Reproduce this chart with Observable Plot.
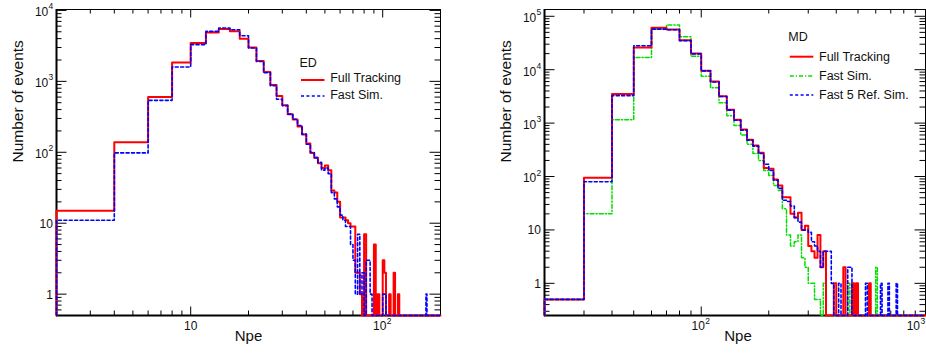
<!DOCTYPE html>
<html>
<head>
<meta charset="utf-8">
<script src="https://cdn.jsdelivr.net/npm/d3@7"></script>
<script src="https://cdn.jsdelivr.net/npm/@observablehq/plot@0.6"></script>
<style>
  html, body { margin: 0; padding: 0; background: #fff; overflow: hidden; }
  #wrap { position: relative; width: 926px; height: 354px; font-family: "Liberation Sans", Arial, Helvetica, sans-serif; }
  .panel { position: absolute; top: 0; }
  #legend { position: absolute; left: 0; top: 0; pointer-events: none; }
</style>
</head>
<body>
<div id="wrap"></div>
<script>
// ---------------- ED: photo-electrons, bins of width 2 starting at Npe = 2 ----------------
const edFirstEdge = 2;
const edBinWidth = 2;
const edFullTracking = [
  15, 138, 600, 1850, 3460, 4900, 5460, 5100, 4000, 2990,
  1930, 1350, 890, 620, 460, 345, 290, 230, 178, 133,
  98, 84, 70, 60, 65, 56, 29, 27, 20, 12,
  12, 11, 10, 9, 9, 2, 2, 1, 0, 7,
  0, 0, 0, 0, 5, 0, 1, 0, 0, 3,
  2, 0, 0, 1, 0, 0, 2, 0, 0, 1,
  0, 0, 0, 0, 0, 0, 0, 0, 0, 0,
  0, 0, 0, 0, 0, 0, 0, 0, 0, 0,
  0, 0, 0, 0, 0, 0, 0, 0, 0, 0,
  0, 0, 0, 0, 0, 0, 0, 0, 0
];
const edFastSim = [
  11, 98, 540, 1590, 3290, 5060, 5640, 5350, 4400, 2950,
  1900, 1320, 870, 560, 455, 345, 292, 238, 180, 130,
  100, 84, 72, 56, 60, 50, 27, 22, 17, 13,
  11, 9, 9, 5, 3, 1, 7, 1, 2, 0,
  3, 3, 1, 0, 0, 0, 0, 0, 0, 1,
  1, 0, 0, 0, 0, 0, 0, 0, 0, 0,
  0, 0, 0, 0, 0, 0, 0, 0, 0, 0,
  0, 0, 0, 0, 0, 0, 0, 0, 0, 0,
  0, 0, 0, 1, 0, 0, 0, 0, 0, 0,
  0, 0, 0, 0, 0, 0, 0, 0, 0
];

// ---------------- MD: photo-electrons, bins of width 10 starting at Npe = 20 ----------------
const mdFirstEdge = 20;
const mdBinWidth = 10;
const mdFullTracking = [
  0.5, 95, 3500, 26000, 61000, 56500, 35500, 20000, 9550, 6000,
  3170, 1770, 1150, 760, 490, 380, 280, 145, 140, 88,
  68, 41, 41, 20, 17, 21, 10, 12, 5, 4,
  3, 8, 2, 4, 0, 0, 0, 1, 0, 0,
  0, 2, 0, 0, 0, 1, 0, 1, 0, 0,
  0, 0, 0, 0, 1, 0, 0, 0, 0, 0,
  0, 0, 0, 0, 0, 0, 0, 0, 0, 0,
  0, 0, 0, 0, 0, 0, 0, 0, 0, 0,
  0, 0, 0, 0, 0, 0, 0, 0, 0, 0,
  0, 0, 0, 0, 0, 0, 0, 0
];
const mdFastSim = [
  0.5, 20, 1160, 17000, 57000, 69000, 41500, 17800, 7500, 4600,
  2400, 1380, 900, 600, 400, 270, 200, 130, 105, 68,
  55, 25, 8, 5, 6, 8, 3, 2, 1, 1,
  0.5, 0.5, 0, 1, 0, 0, 0, 0, 0, 0,
  0, 0, 0, 1, 0, 1, 0, 0, 0, 0,
  0, 0, 0, 0, 0, 0, 0, 0, 2, 0,
  0, 0, 0, 0, 0, 0, 0, 0, 0, 0,
  0, 0, 0, 0, 0, 0, 0, 0, 0, 0,
  0, 0, 0, 0, 0, 0, 0, 0, 0, 0,
  0, 0, 0, 0, 0, 0, 0, 0
];
const mdFast5RefSim = [
  0.5, 80, 3270, 28000, 57500, 56000, 35000, 19800, 9500, 5900,
  3150, 1750, 1130, 740, 480, 370, 270, 170, 130, 85,
  60, 36, 34, 28, 17, 14, 10, 10, 9, 6,
  5, 4, 2, 4, 4, 4, 1, 0, 0, 1,
  0, 0, 0, 2, 2, 0, 0, 0, 0, 0,
  0, 0, 1, 0, 0, 0, 0, 0, 0, 0,
  0, 1, 0, 0, 0, 0, 1, 0, 0, 0,
  0, 0, 1, 0, 0, 0, 0, 0, 0, 0,
  0, 0, 0, 0, 0, 0, 0, 0, 0, 0,
  0, 0, 0, 0, 0, 0, 0, 0
];

// Axis ranges and labelled decades
const edXDomain = [2, 200];
const edYDomain = [0.5, 10300];
const edXTicks = [10, 100];
const edYTicks = [1, 10, 100, 1000, 10000];

const mdXDomain = [20, 1000];
const mdYDomain = [0.25, 134000];
const mdXTicks = [100, 1000];
const mdYTicks = [1, 10, 100, 1000, 10000, 100000];

const axisTitleX = "Npe";
const axisTitleY = "Number of events";

const edLegendHeader = "ED";
const edLegendLabels = ["Full Tracking", "Fast Sim."];
const mdLegendHeader = "MD";
const mdLegendLabels = ["Full Tracking", "Fast Sim.", "Fast 5 Ref. Sim."];

// ---------------- styles ----------------
const RED = "#ff0000", BLUE = "#0000ff", GREEN = "#00e000";
const styleFull = {stroke: RED, strokeWidth: 2};
const styleFast = {stroke: BLUE, strokeWidth: 1.6, strokeDasharray: "3,2.4"};
const styleGreen = {stroke: GREEN, strokeWidth: 1.5, strokeDasharray: "4,2,1.2,2"};
const FONT = "Liberation Sans, Arial, Helvetica, sans-serif";

// Histogram outline as ROOT draws it: rises from the floor at the first edge,
// one flat step per bin, and drops back to the floor at the last edge.
function histSteps(firstEdge, binWidth, values, floor) {
  const pts = [{x: firstEdge, y: floor}];
  values.forEach((v, i) => pts.push({x: firstEdge + i * binWidth, y: Math.max(v, floor)}));
  const end = firstEdge + values.length * binWidth;
  pts.push({x: end, y: Math.max(values[values.length - 1], floor)});
  pts.push({x: end, y: floor});
  return pts;
}

const isDecade = v => Math.abs(Math.log10(v) - Math.round(Math.log10(v))) < 1e-9;
const expOf = v => { const e = Math.round(Math.log10(v)); return e >= 2 ? String(e) : ""; };
const baseOf = v => (Math.round(Math.log10(v)) === 0 ? "1" : "10");

function panel(cfg) {
  const {width, height, marginLeft, marginRight, marginTop, marginBottom,
         xDomain, yDomain, xTicks, yTicks, series} = cfg;
  const fw = width - marginLeft - marginRight;
  const fh = height - marginTop - marginBottom;
  const inside = (v, d) => v > d[0] * 1.0001 && v < d[1] * 0.9999;
  const xMinor = d3.scaleLog().domain(xDomain).ticks().filter(v => !isDecade(v) && inside(v, xDomain));
  const yMinor = d3.scaleLog().domain(yDomain).ticks().filter(v => !isDecade(v) && inside(v, yDomain));
  const xMajor = xTicks.filter(v => v >= xDomain[0] && v <= xDomain[1] * 1.0001);
  const yMajor = yTicks.filter(v => v >= yDomain[0] && v <= yDomain[1]);
  const atEnd = v => v >= xDomain[1] * 0.9999;
  const tick = {stroke: "#000", strokeWidth: 1};
  const txt = {fill: "#111", fontSize: 12};

  const marks = [
    Plot.frame({stroke: "#000", strokeWidth: 1}),
    Plot.ruleY([yDomain[0]], {stroke: "#000", strokeWidth: 2}),
    Plot.ruleX([xDomain[0]], {stroke: "#000", strokeWidth: 2}),
    // inward ticks on all four sides
    Plot.tickX(xMajor, {x: d => d, insetTop: fh - 8.5, ...tick}),
    Plot.tickX(xMinor, {x: d => d, insetTop: fh - 4.5, ...tick}),
    Plot.tickX(xMajor, {x: d => d, insetBottom: fh - 8.5, ...tick}),
    Plot.tickX(xMinor, {x: d => d, insetBottom: fh - 4.5, ...tick}),
    Plot.tickY(yMajor, {y: d => d, insetRight: fw - 10.5, ...tick}),
    Plot.tickY(yMinor, {y: d => d, insetRight: fw - 5.5, ...tick}),
    Plot.tickY(yMajor, {y: d => d, insetLeft: fw - 10.5, ...tick}),
    Plot.tickY(yMinor, {y: d => d, insetLeft: fw - 5.5, ...tick}),
    // histograms
    ...series.map(s => Plot.line(histSteps(s.firstEdge, s.binWidth, s.values, yDomain[0]),
      {x: "x", y: "y", curve: "step-after", ...s.style})),
    // x tick labels
    Plot.text(xMajor.filter(v => !expOf(v)), {x: d => d, frameAnchor: "bottom", dy: 14.2, text: baseOf, textAnchor: "middle", ...txt}),
    Plot.text(xMajor.filter(v => expOf(v) && !atEnd(v)), {x: d => d, frameAnchor: "bottom", dy: 14.2, dx: -3, text: baseOf, textAnchor: "middle", ...txt}),
    Plot.text(xMajor.filter(v => expOf(v) && !atEnd(v)), {x: d => d, frameAnchor: "bottom", dy: 8.6, dx: 4, text: expOf, textAnchor: "start", fill: "#111", fontSize: 8.5}),
    // the label at the right end of the axis is kept inside the page
    Plot.text(xMajor.filter(v => expOf(v) && atEnd(v)), {x: d => d, frameAnchor: "bottom", dy: 14.2, dx: -5.5, text: baseOf, textAnchor: "end", ...txt}),
    Plot.text(xMajor.filter(v => expOf(v) && atEnd(v)), {x: d => d, frameAnchor: "bottom", dy: 8.6, dx: -5, text: expOf, textAnchor: "start", fill: "#111", fontSize: 8.5}),
    // y tick labels
    Plot.text(yMajor.filter(v => !expOf(v)), {y: d => d, frameAnchor: "left", dx: -3.6, dy: 0.6, text: baseOf, textAnchor: "end", ...txt}),
    Plot.text(yMajor.filter(v => expOf(v)), {y: d => d, frameAnchor: "left", dx: -8.2, dy: 2, text: baseOf, textAnchor: "end", ...txt}),
    Plot.text(yMajor.filter(v => expOf(v)), {y: d => d, frameAnchor: "left", dx: -3.3, dy: -3.7, text: expOf, textAnchor: "end", fill: "#111", fontSize: 8.5}),
    // axis titles
    Plot.text([axisTitleX], {frameAnchor: "bottom", dy: 25.5, dx: cfg.xTitleDx || 0, fill: "#111", fontSize: 15}),
    Plot.text([axisTitleY], {frameAnchor: "left", dx: -38, rotate: -90, fill: "#111", fontSize: 15.5})
  ];

  return Plot.plot({
    width, height, marginLeft, marginRight, marginTop, marginBottom,
    x: {type: "log", domain: xDomain, axis: null},
    y: {type: "log", domain: yDomain, axis: null},
    style: {fontFamily: FONT, background: "transparent", overflow: "visible"},
    marks
  });
}

const wrap = document.getElementById("wrap");

const left = panel({
  width: 463, height: 354, marginLeft: 56, marginRight: 23, marginTop: 9, marginBottom: 39,
  xDomain: edXDomain, yDomain: edYDomain, xTicks: edXTicks, yTicks: edYTicks,
  series: [
    {firstEdge: edFirstEdge, binWidth: edBinWidth, values: edFullTracking, style: styleFull},
    {firstEdge: edFirstEdge, binWidth: edBinWidth, values: edFastSim, style: styleFast}
  ]
});
const leftDiv = document.createElement("div");
leftDiv.className = "panel"; leftDiv.style.left = "0px";
leftDiv.appendChild(left);
wrap.appendChild(leftDiv);

const right = panel({
  width: 463, height: 354, marginLeft: 81, marginRight: 1, marginTop: 9, marginBottom: 39,
  xDomain: mdXDomain, yDomain: mdYDomain, xTicks: mdXTicks, yTicks: mdYTicks, xTitleDx: 3,
  series: [
    {firstEdge: mdFirstEdge, binWidth: mdBinWidth, values: mdFastSim, style: styleGreen},
    {firstEdge: mdFirstEdge, binWidth: mdBinWidth, values: mdFullTracking, style: styleFull},
    {firstEdge: mdFirstEdge, binWidth: mdBinWidth, values: mdFast5RefSim, style: styleFast}
  ]
});
const rightDiv = document.createElement("div");
rightDiv.className = "panel"; rightDiv.style.left = "463px";
rightDiv.appendChild(right);
wrap.appendChild(rightDiv);

// ---------------- legends (drawn inside each frame) ----------------
const legend = d3.select(wrap).append("svg")
  .attr("id", "legend").attr("width", 926).attr("height", 354)
  .style("font-family", FONT);

function drawLegend(g, {x, headerBaseline, rows, header}) {
  g.append("text").attr("x", x).attr("y", headerBaseline)
    .attr("font-size", 12.5).attr("fill", "#111").text(header);
  rows.forEach(r => {
    g.append("line").attr("x1", x + 1.5).attr("x2", x + 25).attr("y1", r.lineY).attr("y2", r.lineY)
      .attr("stroke", r.style.stroke).attr("stroke-width", r.style.strokeWidth)
      .attr("stroke-dasharray", r.style.strokeDasharray || null);
    g.append("text").attr("x", x + 30.7).attr("y", r.baseline)
      .attr("font-size", 12.5).attr("fill", "#111").text(r.label);
  });
}

drawLegend(legend.append("g"), {
  x: 299.5, headerBaseline: 66.7, header: edLegendHeader,
  rows: [
    {label: edLegendLabels[0], style: styleFull, lineY: 80, baseline: 82},
    {label: edLegendLabels[1], style: styleFast, lineY: 96, baseline: 99.3}
  ]
});
drawLegend(legend.append("g"), {
  x: 788.3, headerBaseline: 40.7, header: mdLegendHeader,
  rows: [
    {label: mdLegendLabels[0], style: styleFull, lineY: 56.7, baseline: 60.8},
    {label: mdLegendLabels[1], style: styleGreen, lineY: 76, baseline: 80},
    {label: mdLegendLabels[2], style: styleFast, lineY: 95, baseline: 99.3}
  ]
});
</script>
</body>
</html>
